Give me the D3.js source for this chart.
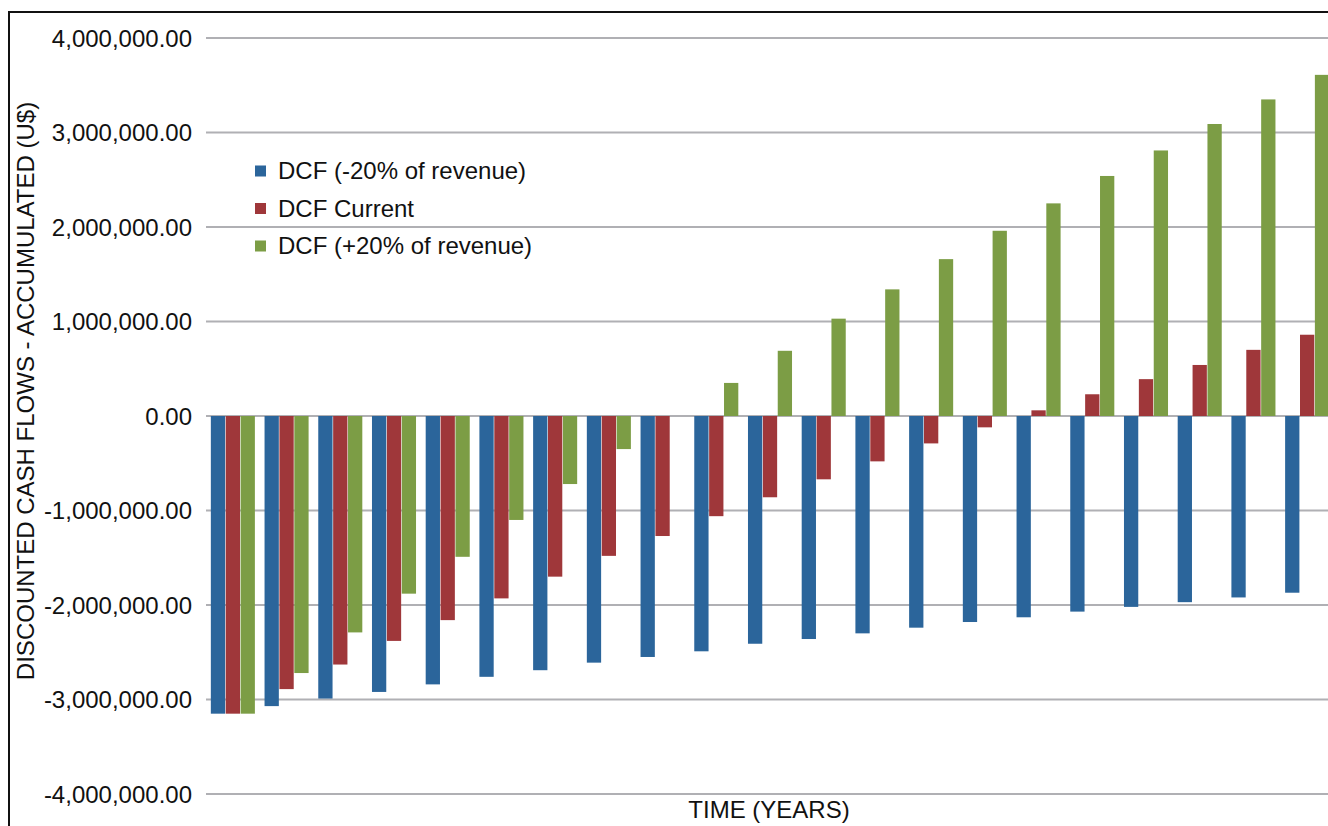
<!DOCTYPE html>
<meta charset="utf-8">
<script src="https://cdn.jsdelivr.net/npm/d3@7"></script>
<style>
  body { margin: 0; background: #fff; }
  svg text { font-family: "Liberation Sans", Arial, sans-serif; fill: #111; }
</style>
<body>
<script>

var width = 1328
var height = 826

// data, one value per year
var years = d3.range(1, 22)
var seriesNames = ["DCF (-20% of revenue)", "DCF Current", "DCF (+20% of revenue)"]
var seriesColors = ["#2b659b", "#9f373a", "#7c9d45"]
var dcfMinus20 = [-3150000, -3070000, -2990000, -2920000, -2840000, -2760000, -2690000, -2610000, -2550000, -2490000,
                  -2410000, -2360000, -2300000, -2240000, -2180000, -2130000, -2070000, -2020000, -1970000, -1920000, -1870000]
var dcfCurrent = [-3150000, -2890000, -2630000, -2380000, -2160000, -1930000, -1700000, -1480000, -1270000, -1060000,
                  -860000, -670000, -480000, -290000, -120000, 60000, 230000, 390000, 540000, 700000, 860000]
var dcfPlus20  = [-3150000, -2720000, -2290000, -1880000, -1490000, -1100000, -720000, -350000, 0, 350000,
                  690000, 1030000, 1340000, 1660000, 1960000, 2250000, 2540000, 2810000, 3090000, 3350000, 3610000]
var yTicks = [-4000000, -3000000, -2000000, -1000000, 0, 1000000, 2000000, 3000000, 4000000]

var series = [dcfMinus20, dcfCurrent, dcfPlus20]

var x0 = d3.scaleBand().domain(years).range([206, 1334]).paddingInner(0.18).paddingOuter(0.09)
var x1 = d3.scaleBand().domain([0, 1, 2]).range([0, x0.bandwidth()]).paddingInner(0.04)
var y = d3.scaleLinear().domain([-4000000, 4000000]).range([794, 38])

var svg = d3.select("body").append("svg")
            .attr("width", width)
            .attr("height", height)

// frame (only left and top edges are inside the picture)
svg.append("path")
   .attr("d", "M9," + height + "V12H" + width)
   .attr("fill", "none")
   .attr("stroke", "#111")
   .attr("stroke-width", 2)

// labels via axis, hyphen minus like the original
var fmt = d => d3.format(",.2f")(d).replace("\u2212", "-")
var yAxis = svg.append("g")
    .attr("transform", "translate(206,0)")
    .call(d3.axisLeft(y).tickValues(yTicks).tickSize(0).tickPadding(14).tickFormat(fmt))
yAxis.select(".domain").remove()
yAxis.selectAll("text").style("font-size", "24px").attr("dy", "0.35em")

svg.append("g").selectAll("line")
   .data(yTicks)
   .join("line")
   .attr("x1", 206).attr("x2", width)
   .attr("y1", d => y(d)).attr("y2", d => y(d))
   .attr("stroke", "#b0b0b4")
   .attr("stroke-width", 2)

// bars
var groups = svg.append("g").selectAll("g")
    .data(years)
    .join("g")
    .attr("transform", d => "translate(" + x0(d) + ",0)")

groups.selectAll("rect")
    .data((d, i) => series.map((s, k) => ({k: k, v: s[i]})))
    .join("rect")
    .attr("x", d => x1(d.k))
    .attr("width", x1.bandwidth())
    .attr("y", d => Math.min(y(d.v), y(0)))
    .attr("height", d => Math.abs(y(d.v) - y(0)))
    .attr("fill", d => seriesColors[d.k])

// legend
var legend = svg.append("g").selectAll("g")
    .data(seriesNames)
    .join("g")
    .attr("transform", (d, i) => "translate(255," + (171 + i * 37.5) + ")")
legend.append("rect")
    .attr("x", 0).attr("y", -5.5)
    .attr("width", 11).attr("height", 11)
    .attr("fill", (d, i) => seriesColors[i])
legend.append("text")
    .attr("x", 23).attr("dy", "0.35em")
    .style("font-size", "24px")
    .text(d => d)

// axis titles
svg.append("text")
   .attr("transform", "translate(769,818)")
   .style("text-anchor", "middle")
   .style("font-size", "24px")
   .text("TIME (YEARS)")

svg.append("text")
   .attr("transform", "translate(34,391) rotate(-90)")
   .style("text-anchor", "middle")
   .style("font-size", "24px")
   .text("DISCOUNTED CASH FLOWS - ACCUMULATED (U$)")

</script>
</body>
